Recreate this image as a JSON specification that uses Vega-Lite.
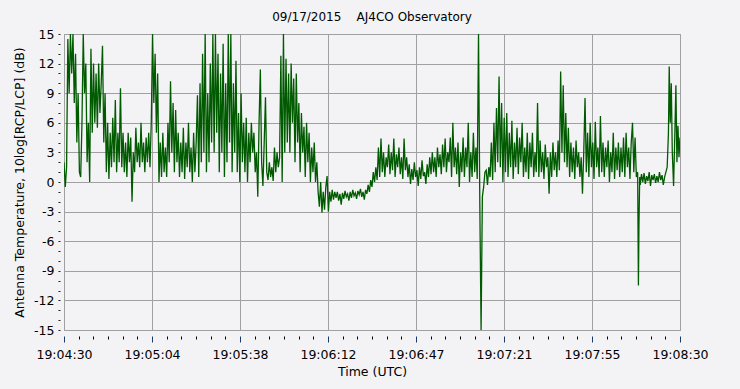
{
"$schema": "https://vega.github.io/schema/vega-lite/v6.json",
"width": 616, "height": 296,
"autosize": {"type": "none"},
"padding": {"left": 64, "top": 34, "right": 60, "bottom": 59},
"background": "#f3f3f5",
"title": {"text": "09/17/2015\u00a0\u00a0\u00a0\u00a0AJ4CO Observatory", "font": "DejaVu Sans", "fontSize": 12, "fontWeight": "normal", "color": "#000000", "anchor": "middle", "offset": 4},
"config": {
  "view": {"stroke": "#a0a0a0", "fill": "#f3f3f5"},
  "axis": {"labelFont": "DejaVu Sans", "labelFontSize": 12.5, "labelColor": "#000000", "titleFont": "DejaVu Sans", "titleFontSize": 12.5, "titleFontWeight": "normal", "titleColor": "#000000", "domain": false, "labelOverlap": false, "labelFlush": false}
},
"data": {"values": [
{"t":0,"v":2.0},{"t":0.5,"v":-0.5},{"t":1,"v":1.5},{"t":1.5,"v":14.5},{"t":2,"v":9},{"t":2.5,"v":15},{"t":3,"v":11},{"t":3.5,"v":15},{"t":4,"v":8},{"t":4.5,"v":13},{"t":5,"v":4},{"t":5.5,"v":9},{"t":6,"v":1},{"t":6.5,"v":0.5},{"t":7,"v":6},{"t":7.5,"v":15},{"t":8,"v":9},{"t":8.5,"v":12},{"t":9,"v":2},{"t":9.5,"v":6},{"t":10,"v":0},{"t":10.5,"v":13.5},{"t":11,"v":5},{"t":11.5,"v":12},{"t":12,"v":6},{"t":12.5,"v":11},{"t":13,"v":5.5},{"t":13.5,"v":12},{"t":14,"v":7},{"t":14.5,"v":10},{"t":15,"v":13.8},{"t":15.5,"v":4},{"t":16,"v":9},{"t":16.5,"v":1},{"t":17,"v":6},{"t":17.5,"v":0.3},{"t":18,"v":5},{"t":18.5,"v":1.5},{"t":19,"v":6.5},{"t":19.5,"v":2},{"t":20,"v":8.3},{"t":20.5,"v":1},{"t":21,"v":5},{"t":21.5,"v":2},{"t":22,"v":9.5},{"t":22.5,"v":1.5},{"t":23,"v":5},{"t":23.5,"v":1},{"t":24,"v":4},{"t":24.5,"v":0.5},{"t":25,"v":5},{"t":25.5,"v":2},{"t":26,"v":4.5},{"t":26.5,"v":-2},{"t":27,"v":3},{"t":27.5,"v":1},{"t":28,"v":5.5},{"t":28.5,"v":2},{"t":29,"v":4},{"t":29.5,"v":1.5},{"t":30,"v":6},{"t":30.5,"v":2},{"t":31,"v":4},{"t":31.5,"v":1},{"t":32,"v":4.5},{"t":32.5,"v":2},{"t":33,"v":5},{"t":33.5,"v":1.5},{"t":34,"v":6},{"t":34.5,"v":15},{"t":35,"v":8},{"t":35.5,"v":13},{"t":36,"v":5},{"t":36.5,"v":11},{"t":37,"v":0},{"t":37.5,"v":4},{"t":38,"v":0.5},{"t":38.5,"v":5},{"t":39,"v":1},{"t":39.5,"v":3.5},{"t":40,"v":0.5},{"t":40.5,"v":6},{"t":41,"v":2},{"t":41.5,"v":10.2},{"t":42,"v":3},{"t":42.5,"v":8},{"t":43,"v":1},{"t":43.5,"v":7.3},{"t":44,"v":2},{"t":44.5,"v":5},{"t":45,"v":0.5},{"t":45.5,"v":4},{"t":46,"v":1},{"t":46.5,"v":5.5},{"t":47,"v":0.3},{"t":47.5,"v":4},{"t":48,"v":1.5},{"t":48.5,"v":6},{"t":49,"v":1},{"t":49.5,"v":3.5},{"t":50,"v":0},{"t":50.5,"v":5},{"t":51,"v":1},{"t":51.5,"v":4},{"t":52,"v":8.8},{"t":52.5,"v":0.5},{"t":53,"v":10},{"t":53.5,"v":2},{"t":54,"v":13},{"t":54.5,"v":3},{"t":55,"v":15},{"t":55.5,"v":1},{"t":56,"v":9},{"t":56.5,"v":2},{"t":57,"v":12},{"t":57.5,"v":4},{"t":58,"v":15},{"t":58.5,"v":3},{"t":59,"v":15},{"t":59.5,"v":5},{"t":60,"v":13},{"t":60.5,"v":1},{"t":61,"v":11},{"t":61.5,"v":3},{"t":62,"v":14},{"t":62.5,"v":0.5},{"t":63,"v":10},{"t":63.5,"v":2},{"t":64,"v":15},{"t":64.5,"v":4},{"t":65,"v":15},{"t":65.5,"v":1},{"t":66,"v":10},{"t":66.5,"v":3},{"t":67,"v":12.3},{"t":67.5,"v":1},{"t":68,"v":7},{"t":68.5,"v":0},{"t":69,"v":9},{"t":69.5,"v":2},{"t":70,"v":6},{"t":70.5,"v":1},{"t":71,"v":6.5},{"t":71.5,"v":0},{"t":72,"v":5},{"t":72.5,"v":2},{"t":73,"v":6},{"t":73.5,"v":3},{"t":74,"v":5},{"t":74.5,"v":1},{"t":75,"v":3},{"t":75.5,"v":-1.5},{"t":76,"v":6},{"t":76.5,"v":11.4},{"t":77,"v":2},{"t":77.5,"v":-0.4},{"t":78,"v":4},{"t":78.5,"v":8.6},{"t":79,"v":1},{"t":79.5,"v":0.2},{"t":80,"v":2},{"t":80.5,"v":0.5},{"t":81,"v":1.5},{"t":81.5,"v":0.1},{"t":82,"v":3.5},{"t":82.5,"v":1},{"t":83,"v":3},{"t":83.5,"v":1.5},{"t":84,"v":2.5},{"t":84.5,"v":12.8},{"t":85,"v":0},{"t":85.5,"v":15},{"t":86,"v":3},{"t":86.5,"v":12.5},{"t":87,"v":4},{"t":87.5,"v":11},{"t":88,"v":3},{"t":88.5,"v":12},{"t":89,"v":6},{"t":89.5,"v":10.5},{"t":90,"v":2},{"t":90.5,"v":11},{"t":91,"v":4},{"t":91.5,"v":8},{"t":92,"v":1},{"t":92.5,"v":7},{"t":93,"v":3},{"t":93.5,"v":5.6},{"t":94,"v":0.5},{"t":94.5,"v":6},{"t":95,"v":2},{"t":95.5,"v":5},{"t":96,"v":0},{"t":96.5,"v":3.5},{"t":97,"v":1},{"t":97.5,"v":4},{"t":98,"v":0},{"t":98.5,"v":2},{"t":99,"v":-1},{"t":99.5,"v":-2.5},{"t":100,"v":0},{"t":100.5,"v":-3.1},{"t":101,"v":-1},{"t":101.5,"v":-2.8},{"t":102,"v":-0.5},{"t":102.5,"v":0.6},{"t":103,"v":-3},{"t":103.5,"v":-1},{"t":104,"v":-2},{"t":104.5,"v":-0.8},{"t":105,"v":-1.8},{"t":105.5,"v":-1},{"t":106,"v":-1.6},{"t":106.5,"v":-1.0},{"t":107,"v":-1.9},{"t":107.5,"v":-1.2},{"t":108,"v":-2.3},{"t":108.5,"v":-1.1},{"t":109,"v":-1.7},{"t":109.5,"v":-0.9},{"t":110,"v":-1.5},{"t":110.5,"v":-1.2},{"t":111,"v":-1.9},{"t":111.5,"v":-1.0},{"t":112,"v":-1.6},{"t":112.5,"v":-0.8},{"t":113,"v":-1.4},{"t":113.5,"v":-1.1},{"t":114,"v":-1.7},{"t":114.5,"v":-0.9},{"t":115,"v":-1.3},{"t":115.5,"v":-0.7},{"t":116,"v":-1.5},{"t":116.5,"v":-1.0},{"t":117,"v":-1.8},{"t":117.5,"v":-0.8},{"t":118,"v":-1.2},{"t":118.5,"v":-0.3},{"t":119,"v":-1.0},{"t":119.5,"v":0.2},{"t":120,"v":-0.5},{"t":120.5,"v":1.0},{"t":121,"v":0},{"t":121.5,"v":1.5},{"t":122,"v":0.2},{"t":122.5,"v":3.5},{"t":123,"v":0.5},{"t":123.5,"v":4.4},{"t":124,"v":1},{"t":124.5,"v":3},{"t":125,"v":0.5},{"t":125.5,"v":2.5},{"t":126,"v":1.5},{"t":126.5,"v":3.8},{"t":127,"v":0.8},{"t":127.5,"v":3},{"t":128,"v":1.2},{"t":128.5,"v":4.4},{"t":129,"v":0.5},{"t":129.5,"v":2.8},{"t":130,"v":1.5},{"t":130.5,"v":3.5},{"t":131,"v":0.8},{"t":131.5,"v":2.5},{"t":132,"v":0.3},{"t":132.5,"v":4.4},{"t":133,"v":1.2},{"t":133.5,"v":2.5},{"t":134,"v":0.5},{"t":134.5,"v":1.8},{"t":135,"v":-0.2},{"t":135.5,"v":1.3},{"t":136,"v":0.2},{"t":136.5,"v":2.0},{"t":137,"v":0.5},{"t":137.5,"v":1.2},{"t":138,"v":-0.4},{"t":138.5,"v":1.5},{"t":139,"v":0.3},{"t":139.5,"v":2.2},{"t":140,"v":0.6},{"t":140.5,"v":1.0},{"t":141,"v":-0.2},{"t":141.5,"v":1.8},{"t":142,"v":0.5},{"t":142.5,"v":2.5},{"t":143,"v":0.8},{"t":143.5,"v":3.0},{"t":144,"v":1.0},{"t":144.5,"v":2.5},{"t":145,"v":0.5},{"t":145.5,"v":3.5},{"t":146,"v":1.5},{"t":146.5,"v":2.8},{"t":147,"v":0.8},{"t":147.5,"v":3.8},{"t":148,"v":1.5},{"t":148.5,"v":4.4},{"t":149,"v":1.0},{"t":149.5,"v":3.0},{"t":150,"v":2.0},{"t":150.5,"v":4.5},{"t":151,"v":0.5},{"t":151.5,"v":6},{"t":152,"v":1.5},{"t":152.5,"v":3.5},{"t":153,"v":0.8},{"t":153.5,"v":4},{"t":154,"v":-0.5},{"t":154.5,"v":3},{"t":155,"v":1},{"t":155.5,"v":4.5},{"t":156,"v":0.5},{"t":156.5,"v":3.5},{"t":157,"v":1.5},{"t":157.5,"v":6},{"t":158,"v":0},{"t":158.5,"v":3},{"t":159,"v":0.5},{"t":159.5,"v":5},{"t":160,"v":1},{"t":160.5,"v":3.5},{"t":161,"v":0.3},{"t":161.5,"v":15},{"t":162,"v":-2},{"t":162.5,"v":-15},{"t":163,"v":-1.5},{"t":163.5,"v":-0.5},{"t":164,"v":1},{"t":164.5,"v":1.2},{"t":165,"v":-0.3},{"t":165.5,"v":1.5},{"t":166,"v":0.5},{"t":166.5,"v":4},{"t":167,"v":0.2},{"t":167.5,"v":6},{"t":168,"v":1},{"t":168.5,"v":7.5},{"t":169,"v":2},{"t":169.5,"v":10.7},{"t":170,"v":1.5},{"t":170.5,"v":8},{"t":171,"v":0},{"t":171.5,"v":6.5},{"t":172,"v":1},{"t":172.5,"v":7},{"t":173,"v":0.5},{"t":173.5,"v":5},{"t":174,"v":1.5},{"t":174.5,"v":6.2},{"t":175,"v":0.3},{"t":175.5,"v":4},{"t":176,"v":1.5},{"t":176.5,"v":5.5},{"t":177,"v":0.8},{"t":177.5,"v":4.5},{"t":178,"v":2},{"t":178.5,"v":6},{"t":179,"v":0.5},{"t":179.5,"v":3.5},{"t":180,"v":1},{"t":180.5,"v":5},{"t":181,"v":0.3},{"t":181.5,"v":4},{"t":182,"v":1.5},{"t":182.5,"v":5},{"t":183,"v":0.5},{"t":183.5,"v":3},{"t":184,"v":1},{"t":184.5,"v":8},{"t":185,"v":0.5},{"t":185.5,"v":4.2},{"t":186,"v":1},{"t":186.5,"v":3},{"t":187,"v":0.3},{"t":187.5,"v":3.8},{"t":188,"v":1.5},{"t":188.5,"v":2.5},{"t":189,"v":-1.2},{"t":189.5,"v":3},{"t":190,"v":0.5},{"t":190.5,"v":4},{"t":191,"v":1.2},{"t":191.5,"v":3},{"t":192,"v":0.5},{"t":192.5,"v":4.2},{"t":193,"v":1.2},{"t":193.5,"v":11.2},{"t":194,"v":3},{"t":194.5,"v":9.8},{"t":195,"v":2},{"t":195.5,"v":7},{"t":196,"v":1.5},{"t":196.5,"v":5.5},{"t":197,"v":0.5},{"t":197.5,"v":4},{"t":198,"v":1},{"t":198.5,"v":3.5},{"t":199,"v":0.3},{"t":199.5,"v":4.2},{"t":200,"v":1.5},{"t":200.5,"v":3},{"t":201,"v":0.5},{"t":201.5,"v":2.5},{"t":202,"v":-1.2},{"t":202.5,"v":3},{"t":203,"v":8.5},{"t":203.5,"v":1},{"t":204,"v":5},{"t":204.5,"v":0.5},{"t":205,"v":6},{"t":205.5,"v":1.5},{"t":206,"v":4},{"t":206.5,"v":0.3},{"t":207,"v":6.1},{"t":207.5,"v":1.5},{"t":208,"v":3.5},{"t":208.5,"v":0.5},{"t":209,"v":6.7},{"t":209.5,"v":1},{"t":210,"v":4},{"t":210.5,"v":0.5},{"t":211,"v":3.5},{"t":211.5,"v":1.5},{"t":212,"v":4.2},{"t":212.5,"v":0},{"t":213,"v":3},{"t":213.5,"v":1},{"t":214,"v":5},{"t":214.5,"v":0.3},{"t":215,"v":3.5},{"t":215.5,"v":1.2},{"t":216,"v":4},{"t":216.5,"v":0.5},{"t":217,"v":3.5},{"t":217.5,"v":1},{"t":218,"v":4.5},{"t":218.5,"v":0.5},{"t":219,"v":5},{"t":219.5,"v":1.5},{"t":220,"v":3.5},{"t":220.5,"v":0.3},{"t":221,"v":4},{"t":221.5,"v":6},{"t":222,"v":1},{"t":222.5,"v":4.5},{"t":223,"v":0.5},{"t":223.5,"v":1},{"t":223.8,"v":-10.5},{"t":224,"v":-4.5},{"t":224.3,"v":0.5},{"t":224.5,"v":-0.3},{"t":225,"v":0.8},{"t":225.5,"v":0},{"t":226,"v":0.9},{"t":226.5,"v":-0.2},{"t":227,"v":0.6},{"t":227.5,"v":0.1},{"t":228,"v":1.0},{"t":228.5,"v":-0.4},{"t":229,"v":0.7},{"t":229.5,"v":0.2},{"t":230,"v":0.8},{"t":230.5,"v":-0.1},{"t":231,"v":0.6},{"t":231.5,"v":0},{"t":232,"v":1.0},{"t":232.5,"v":0.2},{"t":233,"v":0.7},{"t":233.5,"v":-0.3},{"t":234,"v":0.5},{"t":234.5,"v":1.0},{"t":235,"v":1.5},{"t":235.5,"v":5},{"t":235.8,"v":11.7},{"t":236.2,"v":6},{"t":236.6,"v":10},{"t":237,"v":3},{"t":237.5,"v":-0.4},{"t":238,"v":5},{"t":238.4,"v":9.8},{"t":238.8,"v":2},{"t":239.2,"v":5.7},{"t":239.6,"v":2.5},{"t":240,"v":4.5}
]},
"layer": [
  {
    "mark": {"type": "line", "color": "#005a00", "strokeWidth": 1.3, "clip": true},
    "encoding": {
      "x": {"field": "t", "type": "quantitative", "scale": {"domain": [0, 240], "nice": false, "zero": false},
        "axis": {"orient": "bottom", "values": [0, 34.2857, 68.5714, 102.8571, 137.1429, 171.4286, 205.7143, 240],
          "labelExpr": "['19:04:30','19:05:04','19:05:38','19:06:12','19:06:47','19:07:21','19:07:55','19:08:30'][round(datum.value/34.2857)]",
          "grid": true, "gridColor": "#a0a0a0", "gridWidth": 1,
          "tickSize": 6, "tickColor": "#1a3a6a", "offset": 6, "labelPadding": 6,
          "title": "Time (UTC)", "titlePadding": 5}},
      "y": {"field": "v", "type": "quantitative", "scale": {"domain": [-15, 15], "nice": false, "zero": false},
        "axis": {"values": [-15,-14,-13,-12,-11,-10,-9,-8,-7,-6,-5,-4,-3,-2,-1,0,1,2,3,4,5,6,7,8,9,10,11,12,13,14,15],
          "labelExpr": "datum.value % 3 == 0 ? '' + datum.value : ''",
          "grid": true, "gridColor": "#a0a0a0", "gridWidth": 1,
          "gridOpacity": {"condition": {"test": "datum.value % 3 == 0", "value": 1}, "value": 0},
          "tickSize": 2, "tickColor": "#202020", "offset": 4, "labelPadding": 4,
          "title": "Antenna Temperature, 10log[RCP/LCP] (dB)", "titlePadding": 7}}
    }
  },
  {
    "mark": {"type": "point", "opacity": 0},
    "encoding": {
      "x": {"field": "t", "type": "quantitative",
        "axis": {"orient": "bottom", "values": [5.7143, 11.4286, 17.1429, 22.8571, 28.5714, 40, 45.7143, 51.4286, 57.1429, 62.8571, 74.2857, 80, 85.7143, 91.4286, 97.1429, 108.5714, 114.2857, 120, 125.7143, 131.4286, 142.8571, 148.5714, 154.2857, 160, 165.7143, 177.1429, 182.8571, 188.5714, 194.2857, 200, 211.4286, 217.1429, 222.8571, 228.5714, 234.2857],
          "labels": false, "grid": false, "tickSize": 3, "tickColor": "#000000", "offset": 6, "title": null}}
    }
  }
],
"resolve": {"axis": {"x": "independent"}}
}
